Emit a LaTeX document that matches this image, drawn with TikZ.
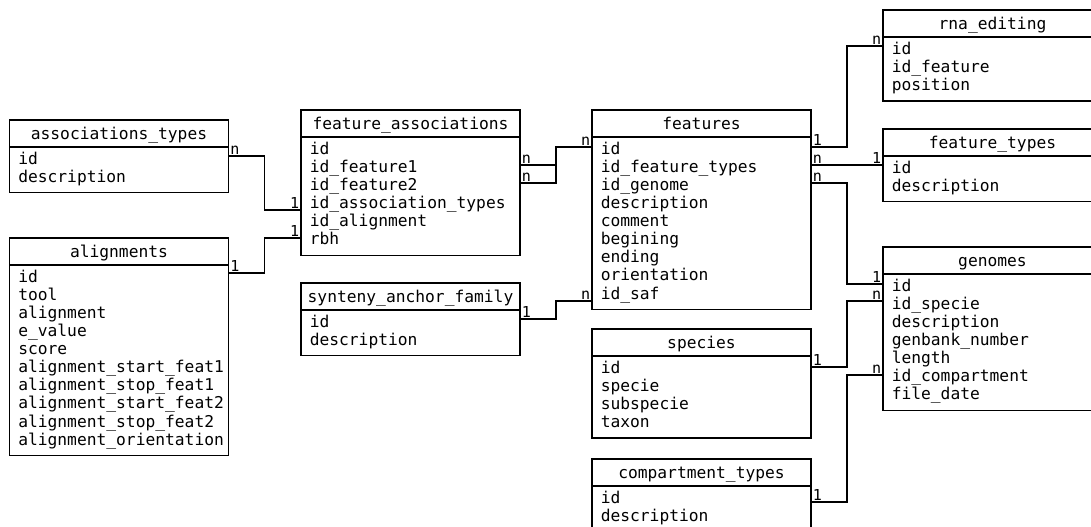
\documentclass[tikz,border=0pt]{standalone}
\usepackage{fontspec}
\newfontfamily\ermono{DejaVu Sans Mono}
\usetikzlibrary{calc}
\tikzset{
  frame/.style={draw, line width=1pt, fill=white, inner sep=0pt, outer sep=0pt,
    minimum width=164.25pt, anchor=north west},
  sepline/.style={line width=1pt},
  ttl/.style={font=\ermono\fontsize{12.2}{13.6}\selectfont, inner sep=0pt, anchor=base},
  bodytext/.style={font=\ermono\fontsize{12.2}{13.6}\selectfont, inner sep=0pt, anchor=base west},
  conn/.style={line width=0.9pt},
  card/.style={font=\ermono\fontsize{11.3}{12}\selectfont, inner sep=1.2pt},
}
% #1 name, #2 x, #3 y, #4 title, #5 rows, #6 number of rows
\newcommand\ertable[6]{%
  \pgfmathsetmacro\ertabh{(27+18.1*#6+9.6)*0.75}%
  \node[frame, minimum height=\ertabh pt] (#1) at (#2,#3) {};
  \draw[sepline] ($(#1.north west)+(0,27)$) -- ($(#1.north east)+(0,27)$);
  \node[ttl] (#1-t) at ($(#1.north)+(0,19.5)$) {#4};
  \node[bodytext] (#1-b) at ($(#1.north west)+(8.5,44)$)
    {\begin{tabular}[t]{@{}l@{}}#5\end{tabular}};
}
\begin{document}
\begin{tikzpicture}[x=0.75pt,y=-0.75pt]
\useasboundingbox (0,0) rectangle (1091,526);
\fill[white] (0,0) rectangle (1091,526);
\clip (0,0) rectangle (1091,526);

\ertable{assoc}{9.5}{120}{associations\_types}{id\\description}{2}
\ertable{align}{9.5}{238}{alignments}{id\\tool\\alignment\\e\_value\\score\\alignment\_start\_feat1\\alignment\_stop\_feat1\\alignment\_start\_feat2\\alignment\_stop\_feat2\\alignment\_orientation}{10}
\ertable{fa}{301}{110}{feature\_associations}{id\\id\_feature1\\id\_feature2\\id\_association\_types\\id\_alignment\\rbh}{6}
\ertable{saf}{301}{283}{synteny\_anchor\_family}{id\\description}{2}
\ertable{feat}{592}{110}{features}{id\\id\_feature\_types\\id\_genome\\description\\comment\\begining\\ending\\orientation\\id\_saf}{9}
\ertable{spec}{592}{329}{species}{id\\specie\\subspecie\\taxon}{4}
\ertable{comp}{592}{459}{compartment\_types}{id\\description}{2}
\ertable{rna}{883}{10}{rna\_editing}{id\\id\_feature\\position}{3}
\ertable{ft}{883}{129}{feature\_types}{id\\description}{2}
\ertable{gen}{883}{247}{genomes}{id\\id\_specie\\description\\genbank\_number\\length\\id\_compartment\\file\_date}{7}

% connection points
\coordinate (a1) at ($(assoc.north east)+(0,36)$);
\coordinate (a2) at ($(fa.north west)+(0,100)$);
\coordinate (b1) at ($(align.north east)+(0,35)$);
\coordinate (b2) at ($(fa.north west)+(0,128)$);
\coordinate (c1) at ($(fa.north east)+(0,55)$);
\coordinate (c2) at ($(feat.north west)+(0,37)$);
\coordinate (d1) at ($(fa.north east)+(0,73)$);
\coordinate (e1) at ($(saf.north east)+(0,36)$);
\coordinate (e2) at ($(feat.north west)+(0,191)$);
\coordinate (f1) at ($(feat.north east)+(0,37)$);
\coordinate (f2) at ($(rna.north west)+(0,36)$);
\coordinate (g1) at ($(feat.north east)+(0,55)$);
\coordinate (g2) at (g1 -| ft.west);
\coordinate (h1) at ($(feat.north east)+(0,73)$);
\coordinate (h2) at ($(gen.north west)+(0,37)$);
\coordinate (i1) at ($(spec.north east)+(0,38)$);
\coordinate (i2) at ($(gen.north west)+(0,54)$);
\coordinate (j1) at ($(comp.north east)+(0,43)$);
\coordinate (j2) at ($(gen.north west)+(0,128)$);

% connectors
\draw[conn] (a1) -| ($(a1)!.5!(a2)$) |- (a2);
\draw[conn] (b1) -| ($(b1)!.5!(b2)$) |- (b2);
\draw[conn] (c1) -| ($(c1)!.5!(c2)$) |- (c2);
\draw[conn] (d1) -| ($(c1)!.5!(c2)$);
\draw[conn] (e1) -| ($(e1)!.5!(e2)$) |- (e2);
\draw[conn] (f1) -| ($(f1)!.5!(f2)$) |- (f2);
\draw[conn] (g1) -- (g2);
\draw[conn] (h1) -| ($(h1)!.5!(h2)$) |- (h2);
\draw[conn] (i1) -| ($(i1)!.5!(i2)$) |- (i2);
\draw[conn] (j1) -| ($(j1)!.5!(j2)$) |- (j2);

% cardinalities
\node[card, anchor=south west] (la1) at (a1) {n};
\node[card, anchor=south east] (la2) at (a2) {1};
\node[card, anchor=south west] (lb1) at (b1) {1};
\node[card, anchor=south east] (lb2) at (b2) {1};
\node[card, anchor=south west] (lc1) at (c1) {n};
\node[card, anchor=south east] (lc2) at (c2) {n};
\node[card, anchor=south west] (ld1) at (d1) {n};
\node[card, anchor=south west] (le1) at (e1) {1};
\node[card, anchor=south east] (le2) at (e2) {n};
\node[card, anchor=south west] (lf1) at (f1) {1};
\node[card, anchor=south east] (lf2) at (f2) {n};
\node[card, anchor=south west] (lg1) at (g1) {n};
\node[card, anchor=south east] (lg2) at (g2) {1};
\node[card, anchor=south west] (lh1) at (h1) {n};
\node[card, anchor=south east] (lh2) at (h2) {1};
\node[card, anchor=south west] (li1) at (i1) {1};
\node[card, anchor=south east] (li2) at (i2) {n};
\node[card, anchor=south west] (lj1) at (j1) {1};
\node[card, anchor=south east] (lj2) at (j2) {n};
\end{tikzpicture}
\end{document}
